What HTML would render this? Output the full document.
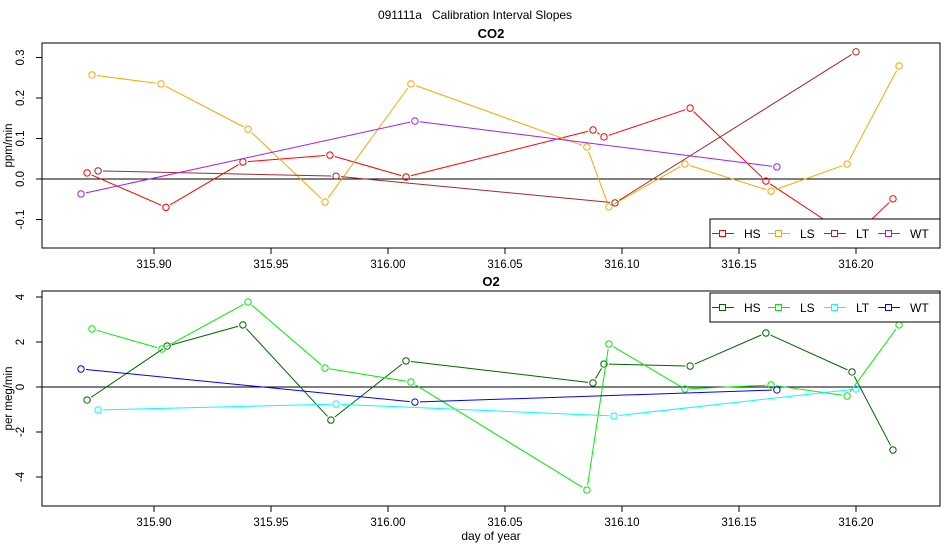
<!DOCTYPE html>
<html><head><meta charset="utf-8"><style>
body{margin:0;background:#fff;}
svg{display:block;font-family:"Liberation Sans",sans-serif;}
</style></head><body>
<svg id="c" width="950" height="550" xmlns="http://www.w3.org/2000/svg">
<text x="475" y="19" text-anchor="middle" font-size="12" style="white-space:pre">091111a   Calibration Interval Slopes</text>
</svg>
<script>
const xTicks=[315.90,315.95,316.00,316.05,316.10,316.15,316.20];
const co2YTicks=[-0.1,0.0,0.1,0.2,0.3];
const o2YTicks=[-4,-2,0,2,4];
const co2HSx=[315.8714,315.9051,315.9380,315.9752,316.0077,316.0876,316.0923,316.1291,316.1615,316.1983,316.2158];
const co2HSy=[0.015,-0.070,0.042,0.059,0.005,0.121,0.104,0.175,-0.005,-0.146,-0.049];
const co2LSx=[315.8735,315.9030,315.9402,315.9731,316.0098,316.0850,316.0944,316.1269,316.1637,316.1962,316.2184];
const co2LSy=[0.257,0.235,0.123,-0.057,0.235,0.079,-0.069,0.037,-0.030,0.037,0.279];
const co2LTx=[315.8761,315.9778,316.0970,316.2000];
const co2LTy=[0.020,0.007,-0.059,0.314];
const co2WTx=[315.8688,316.0115,316.1662];
const co2WTy=[-0.037,0.143,0.030];
const o2HSx=[315.8714,315.9056,315.9380,315.9756,316.0077,316.0876,316.0923,316.1291,316.1615,316.1983,316.2158];
const o2HSy=[-0.58,1.82,2.76,-1.47,1.16,0.18,1.02,0.93,2.40,0.67,-2.80];
const o2LSx=[315.8735,315.9034,315.9402,315.9731,316.0098,316.0850,316.0944,316.1269,316.1637,316.1962,316.2184];
const o2LSy=[2.58,1.69,3.78,0.84,0.22,-4.58,1.91,-0.09,0.09,-0.40,2.76];
const o2LTx=[315.8761,315.9778,316.0966,316.2000];
const o2LTy=[-1.02,-0.76,-1.29,-0.09];
const o2WTx=[315.8688,316.0115,316.1662];
const o2WTy=[0.80,-0.67,-0.13];
const seriesNames=["HS","LS","LT","WT"];

const svg=document.getElementById('c');
const NS="http://www.w3.org/2000/svg";
function mk(tag,attrs,parent){const e=document.createElementNS(NS,tag);for(const k in attrs)e.setAttribute(k,attrs[k]);(parent||svg).appendChild(e);return e;}
const L=42,R=940;
function sx(v){return 154+(v-315.90)*2340;}

function panel(cfg){
  const g=mk('g',{});
  
  
  const sy=cfg.sy;
  const t=mk('text',{x:491,y:cfg.top-5,'text-anchor':'middle','font-size':13,'font-weight':'bold'},g);
  t.textContent=cfg.title;
  
  
  const box=mk('rect',{x:L,y:cfg.top,width:R-L,height:cfg.bot-cfg.top,fill:'none',stroke:'#000','stroke-width':1},g);
  
  
  const zl=mk('line',{x1:L,x2:R,y1:sy(0),y2:sy(0),stroke:'#000','stroke-width':1},g);
  
  
  xTicks.forEach(v=>{
    const x=sx(v);
    mk('line',{x1:x,x2:x,y1:cfg.bot,y2:cfg.bot+6,stroke:'#000'},g);
    const tx=mk('text',{x:x,y:cfg.bot+20,'text-anchor':'middle','font-size':11.5},g);
    tx.textContent=v.toFixed(2);
    
    
  });
  cfg.yTicks.forEach(v=>{
    const y=sy(v);
    mk('line',{x1:L,x2:L-6,y1:y,y2:y,stroke:'#000'},g);
    const ty=mk('text',{x:24,y:y,'text-anchor':'middle','font-size':11.5,transform:`rotate(-90 24 ${y})`},g);
    ty.textContent=cfg.fmt(v);
    
    
  });
  const yl=mk('text',{x:12,y:(cfg.top+cfg.bot)/2,'text-anchor':'middle','font-size':11.5,transform:`rotate(-90 12 ${(cfg.top+cfg.bot)/2})`},g);
  yl.textContent=cfg.ylab;
  
  
  cfg.series.forEach((s,i)=>{
    const sg=mk('g',{},g);
    
    
    const px=s.x.map(sx),py=s.y.map(sy);
    for(let k=0;k<px.length-1;k++){
      const dx=px[k+1]-px[k],dy=py[k+1]-py[k],d=Math.hypot(dx,dy),gp=5;
      if(d>2*gp) mk('line',{x1:px[k]+dx*gp/d,y1:py[k]+dy*gp/d,x2:px[k+1]-dx*gp/d,y2:py[k+1]-dy*gp/d,stroke:s.c,'stroke-width':1},sg);
    }
    for(let k=0;k<px.length;k++){
      const p=mk('circle',{cx:px[k],cy:py[k],r:3.2,fill:'none',stroke:s.c,'stroke-width':1},sg);
      
      
    }
  });
  const lg=mk('g',{},g);
  
  
  mk('rect',{x:710,y:cfg.ly,width:230,height:29,fill:'#fff',stroke:'#000'},lg);
  const lx=[722,778,834,888];
  cfg.series.forEach((s,i)=>{
    const cy=cfg.ly+14.5;
    const e=mk('g',{},lg);
    
    
    mk('line',{x1:lx[i]-10,x2:lx[i]+12,y1:cy,y2:cy,stroke:s.c},e);
    mk('rect',{x:lx[i]-2.5,y:cy-3,width:6,height:6,fill:'#fff',stroke:s.c},e);
    const tt=mk('text',{x:lx[i]+22,y:cy+4.5,'font-size':12},e);
    tt.textContent=seriesNames[i];
  });
}
panel({name:'co2',title:'CO2',top:43,bot:248,ly:219,ylab:'ppm/min',yTicks:co2YTicks,
  sy:v=>179-v*405,fmt:v=>v.toFixed(1),
  series:[{x:co2HSx,y:co2HSy,c:'#ff0000'},{x:co2LSx,y:co2LSy,c:'#ffa500'},{x:co2LTx,y:co2LTy,c:'#a52a2a'},{x:co2WTx,y:co2WTy,c:'#a020f0'}]});
panel({name:'o2',title:'O2',top:291,bot:506,ly:293,ylab:'per meg/min',yTicks:o2YTicks,
  sy:v=>387-v*22.5,fmt:v=>String(v),
  series:[{x:o2HSx,y:o2HSy,c:'#006400'},{x:o2LSx,y:o2LSy,c:'#00ee00'},{x:o2LTx,y:o2LTy,c:'#00ffff'},{x:o2WTx,y:o2WTy,c:'#0000ff'}]});
const xl=mk('text',{x:491,y:540,'text-anchor':'middle','font-size':12});
xl.textContent='day of year';


</script>
</body></html>
